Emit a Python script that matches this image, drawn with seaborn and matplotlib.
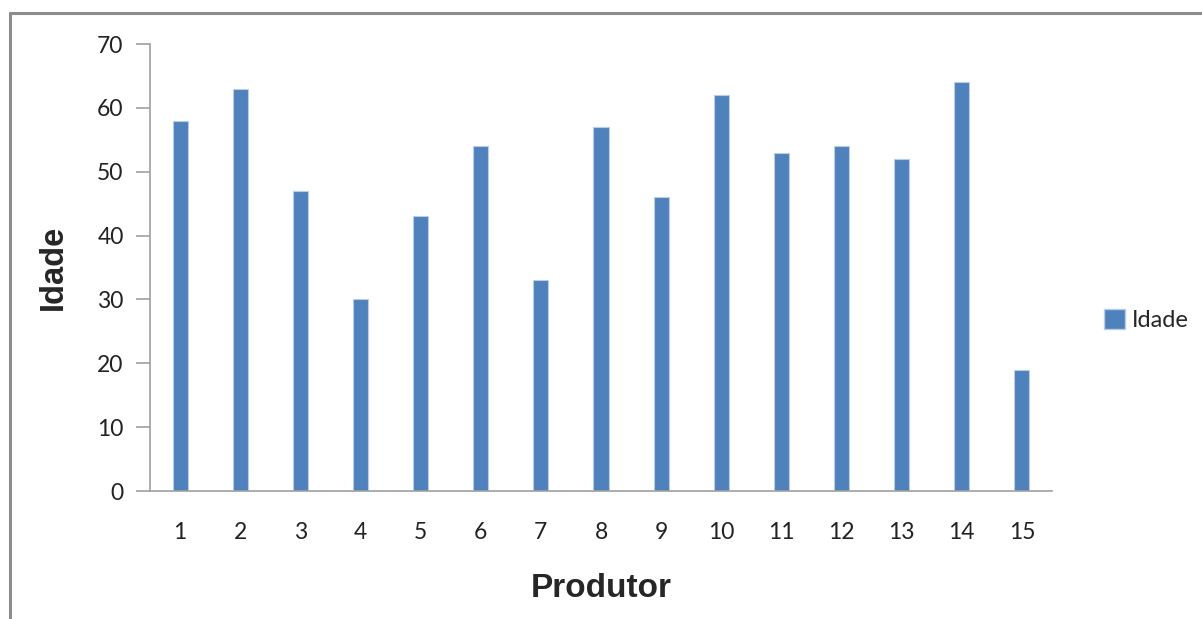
import matplotlib
matplotlib.use("Agg")
import matplotlib.pyplot as plt
import matplotlib.patches as mpatches
from matplotlib.lines import Line2D
import pandas as pd
import seaborn as sns

# data
produtor = [str(i) for i in range(1, 16)]
idade = [58, 63, 47, 30, 43, 54, 33, 57, 46, 62, 53, 54, 52, 64, 19]
y_ticks = [0, 10, 20, 30, 40, 50, 60, 70]

df = pd.DataFrame({"Produtor": produtor, "Idade": idade})

sns.set_style("white")
plt.rcParams["font.family"] = ["Lato", "DejaVu Sans"]

fig = plt.figure(figsize=(12.02, 6.19), dpi=100)
ax = fig.add_axes([150 / 1202, 1 - 491 / 619, (1052 - 150) / 1202, (491 - 44) / 619])

bar_color = "#4F81BD"
sns.barplot(data=df, x="Produtor", y="Idade", color=bar_color, width=0.25,
            edgecolor="#B9CDE5", linewidth=0.8, saturation=1, ax=ax)

ax.set_xlim(-0.5, len(produtor) - 0.5)
ax.set_ylim(0, 70)
ax.set_yticks(y_ticks)

for side in ["top", "right"]:
    ax.spines[side].set_visible(False)
for side in ["left", "bottom"]:
    ax.spines[side].set_color("#A0A0A0")
    ax.spines[side].set_linewidth(1.2)

ax.tick_params(axis="y", length=10, width=1.2, color="#A0A0A0", pad=9,
               labelsize=16.5, labelcolor="#222222", left=True)
ax.tick_params(axis="x", length=0, pad=22, labelsize=16.5, labelcolor="#222222")

ax.set_xlabel("Produtor", fontsize=24, fontweight="bold",
              family=["Liberation Sans", "DejaVu Sans"], labelpad=22)
ax.set_ylabel("Idade", fontsize=23.5, fontweight="bold",
              family=["Liberation Sans", "DejaVu Sans"], labelpad=20)

handle = mpatches.Patch(facecolor=bar_color, edgecolor="#B9CDE5", label="Idade")
fig.legend(handles=[handle], loc="center left", bbox_to_anchor=(1092 / 1202, 1 - 320 / 619),
           frameon=False, fontsize=17, handlelength=0.9, handleheight=0.9,
           handletextpad=0.3, borderpad=0)

# outer chart frame (only the top and left edges are visible)
fig.add_artist(Line2D([9.5 / 1202, 9.5 / 1202], [0, 1 - 13 / 619],
                      transform=fig.transFigure, color="#8C8C8C", linewidth=2.2))
fig.add_artist(Line2D([9.5 / 1202, 1], [1 - 13 / 619, 1 - 13 / 619],
                      transform=fig.transFigure, color="#8C8C8C", linewidth=2.2))

fig.savefig("out.png", dpi=100, facecolor="white")
